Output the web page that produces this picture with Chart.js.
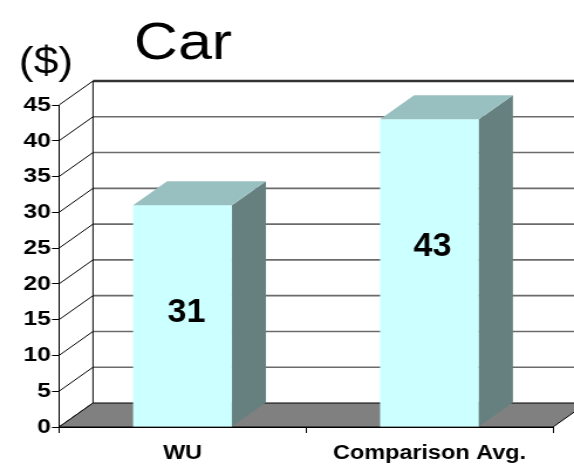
<!DOCTYPE html>
<html>
<head>
<meta charset="utf-8">
<script src="https://cdn.jsdelivr.net/npm/chart.js@4.4.0/dist/chart.umd.min.js"></script>
<style>
  html, body { margin: 0; padding: 0; background: #fff; overflow: hidden; }
  /* the reference is horizontally stretched, so draw narrow and stretch */
  #wrap { width: 490px; height: 468px; transform: scaleX(1.171429); transform-origin: 0 0; }
</style>
</head>
<body>
<div id="wrap"><canvas id="chart" width="490" height="468"></canvas></div>
<script>
const categories = ['WU', 'Comparison Avg.'];
const values = [31, 43];
const yTicks = [0, 5, 10, 15, 20, 25, 30, 35, 40, 45];

const SX = 574 / 490;          // horizontal stretch
const DX = 34 / SX, DY = -24;  // 3d depth offset
const LABEL_NUDGE = [{ x: 4, y: -3 }, { x: 3, y: -26 }];
const FONT = "'Liberation Sans', Arial, sans-serif";

function poly(ctx, pts, fill, stroke) {
    ctx.beginPath();
    ctx.moveTo(pts[0][0], pts[0][1]);
    for (let i = 1; i < pts.length; i++) ctx.lineTo(pts[i][0], pts[i][1]);
    ctx.closePath();
    if (fill) { ctx.fillStyle = fill; ctx.fill(); }
    if (stroke) { ctx.strokeStyle = stroke; ctx.lineWidth = 1; ctx.stroke(); }
}

function line(ctx, x1, y1, x2, y2) {
    ctx.beginPath();
    ctx.moveTo(x1, y1);
    ctx.lineTo(x2, y2);
    ctx.stroke();
}

const box3d = {
    id: 'box3d',
    beforeDatasetsDraw(chart) {
        const { ctx, chartArea: a, scales: { y } } = chart;
        ctx.save();
        // back wall grid
        ctx.strokeStyle = '#6b6b6b';
        ctx.lineWidth = 1.6;
        yTicks.forEach(v => {
            if (v === 0) return;
            const py = y.getPixelForValue(v) + DY;
            if (v === yTicks[yTicks.length - 1]) { ctx.strokeStyle = '#333'; ctx.lineWidth = 2.5; }
            line(ctx, a.left + DX, py, chart.width, py);
        });
        // side wall lines
        ctx.strokeStyle = '#000';
        ctx.lineWidth = 1;
        yTicks.forEach(v => {
            const py = y.getPixelForValue(v);
            line(ctx, a.left, py, a.left + DX, py + DY);
        });
        line(ctx, a.left + DX, a.top + DY, a.left + DX, a.bottom + DY);
        // floor
        poly(ctx, [[a.left, a.bottom], [a.right, a.bottom], [a.right + DX, a.bottom + DY], [a.left + DX, a.bottom + DY]], '#808080', '#000');
        ctx.restore();
    },
    afterDatasetsDraw(chart) {
        const { ctx } = chart;
        const meta = chart.getDatasetMeta(0);
        ctx.save();
        meta.data.forEach((bar, i) => {
            const { x, y: top, base, width } = bar.getProps(['x', 'y', 'base', 'width'], true);
            const x1 = x - width / 2, x2 = x + width / 2;
            poly(ctx, [[x2, top], [x2 + DX, top + DY], [x2 + DX, base + DY], [x2, base]], '#668080');
            poly(ctx, [[x1, top], [x2, top], [x2 + DX, top + DY], [x1 + DX, top + DY]], '#99c0c0');

            ctx.save();
            ctx.translate(x + LABEL_NUDGE[i].x / SX, (top + base) / 2 + LABEL_NUDGE[i].y);
            ctx.scale(1 / SX, 1);
            ctx.fillStyle = '#000';
            ctx.font = 'bold 34px ' + FONT;
            ctx.textAlign = 'center';
            ctx.textBaseline = 'middle';
            ctx.fillText(String(values[i]), 0, 0);
            ctx.restore();
        });
        ctx.restore();
    },
    afterDraw(chart) {
        const { ctx } = chart;
        ctx.save();
        ctx.fillStyle = '#000';
        ctx.textAlign = 'center';
        ctx.textBaseline = 'alphabetic';
        ctx.font = '52px ' + FONT;
        ctx.fillText('Car', 183 / SX, 59);
        ctx.font = '38px ' + FONT;
        ctx.fillText('($)', 46 / SX, 74);
        ctx.restore();
    }
};

new Chart(document.getElementById('chart').getContext('2d'), {
    type: 'bar',
    data: {
        labels: categories,
        datasets: [{
            data: values,
            backgroundColor: '#ccffff',
            borderWidth: 0,
            barPercentage: 0.4,
            categoryPercentage: 1
        }]
    },
    options: {
        responsive: false,
        animation: false,
        devicePixelRatio: 1,
        layout: { padding: { top: 105, right: 490 - 553 / SX, left: 0, bottom: 0 } },
        plugins: { legend: { display: false }, tooltip: { enabled: false } },
        scales: {
            y: {
                min: 0,
                max: 45,
                afterBuildTicks: s => { s.ticks = yTicks.map(v => ({ value: v })); },
                afterFit: s => { s.width = 59 / SX; },
                grid: { drawOnChartArea: false, drawTicks: true, tickLength: 6, color: '#000' },
                border: { display: true, color: '#000', width: 1 },
                ticks: { color: '#000', padding: 1, font: { family: FONT, size: 21, weight: 'bold' } }
            },
            x: {
                afterFit: s => { s.height = 41; },
                grid: { drawOnChartArea: false, drawTicks: true, tickLength: 6, color: '#000', offset: true },
                border: { display: true, color: '#000', width: 1 },
                ticks: { color: '#000', padding: 8, font: { family: FONT, size: 20, weight: 'bold' } }
            }
        }
    },
    plugins: [box3d]
});
</script>
</body>
</html>
